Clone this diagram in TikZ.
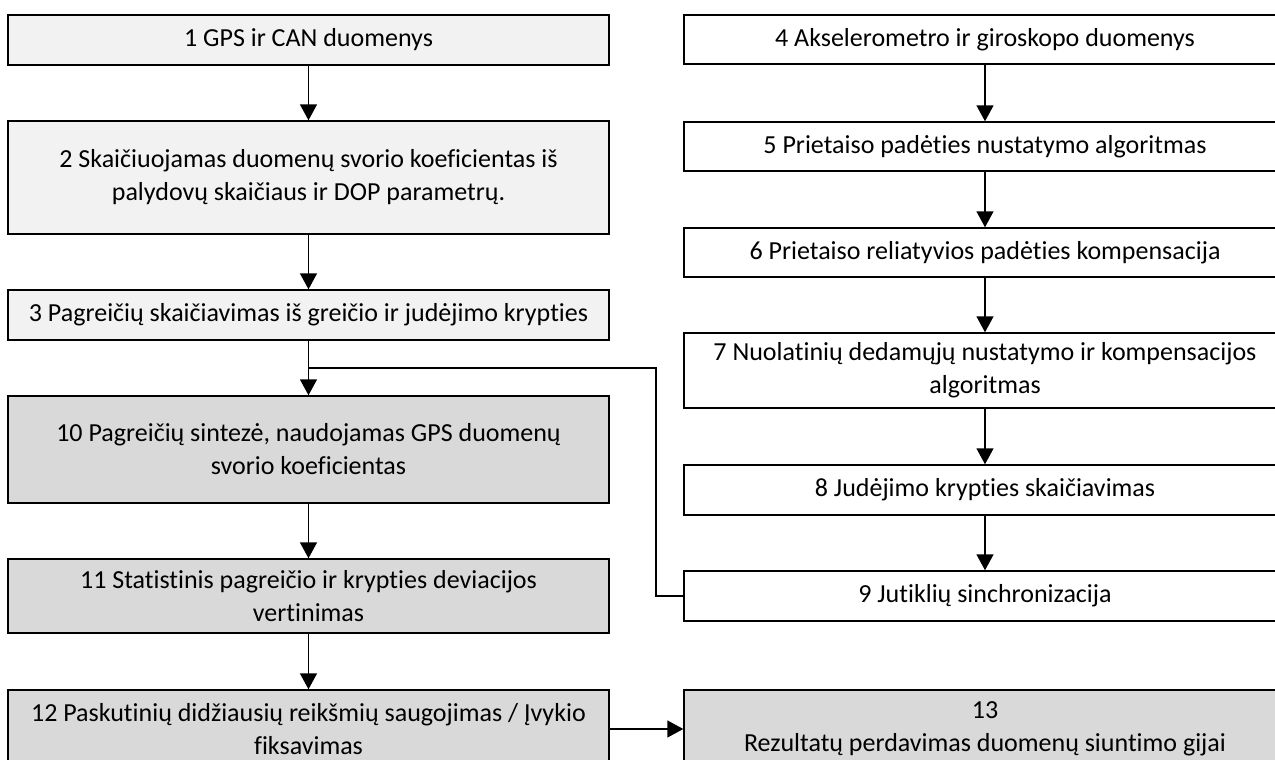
\documentclass[tikz,border=0pt]{standalone}
\usepackage{fontspec}
\setmainfont{Carlito}[Ligatures={NoCommon}]
\usetikzlibrary{arrows.meta}
\definecolor{lightbox}{HTML}{F2F2F2}
\definecolor{darkbox}{HTML}{D9D9D9}
\begin{document}
\begin{tikzpicture}[x=1pt,y=-1pt,
  box/.style={draw=black, line width=1.4pt, align=center, inner sep=0pt, font=\fontsize{26}{33}\selectfont},
  lbox/.style={box, minimum width=601pt},
  rbox/.style={box, minimum width=602pt},
  arr/.style={line width=1.4pt, -{Triangle[length=16pt,width=17pt]}},
  ln/.style={line width=1.4pt}]
\useasboundingbox (0,0) rectangle (1275,760);
\clip (0,0) rectangle (1275,760);
% left column
\node[lbox, fill=lightbox, minimum height=50pt] (n1) at (308.5,40) {1 GPS ir CAN duomenys};
\node[lbox, fill=lightbox, minimum height=113pt] (n2) at (308.5,177.5) {2 Skaičiuojamas duomenų svorio koeficientas iš\\palydovų skaičiaus ir DOP parametrų.};
\node[lbox, fill=lightbox, minimum height=50pt] (n3) at (308.5,315) {3 Pagreičių skaičiavimas iš greičio ir judėjimo krypties};
\node[lbox, fill=darkbox, minimum height=107pt] (n10) at (308.5,449.5) {10 Pagreičių sintezė, naudojamas GPS duomenų\\svorio koeficientas};
\node[lbox, fill=darkbox, minimum height=74pt] (n11) at (308.5,596) {11 Statistinis pagreičio ir krypties deviacijos\\vertinimas};
\node[lbox, fill=darkbox, minimum height=78pt] (n12) at (308.5,729) {12 Paskutinių didžiausių reikšmių saugojimas / Įvykio\\fiksavimas};
% right column
\node[rbox, minimum height=49pt] (n4) at (985,39.5) {4 Akselerometro ir giroskopo duomenys};
\node[rbox, minimum height=49pt] (n5) at (985,146.5) {5 Prietaiso padėties nustatymo algoritmas};
\node[rbox, minimum height=49pt] (n6) at (985,252.5) {6 Prietaiso reliatyvios padėties kompensacija};
\node[rbox, minimum height=75pt] (n7) at (985,370.5) {7 Nuolatinių dedamųjų nustatymo ir kompensacijos\\algoritmas};
\node[rbox, minimum height=50pt] (n8) at (985,490) {8 Judėjimo krypties skaičiavimas};
\node[rbox, minimum height=50pt] (n9) at (985,596) {9 Jutiklių sinchronizacija};
\node[rbox, fill=darkbox, minimum height=78pt] (n13) at (985,729) {13\\Rezultatų perdavimas duomenų siuntimo gijai};
% connectors
\draw[arr] (n1) -- (n2);
\draw[arr] (n2) -- (n3);
\draw[arr] (n3) -- (n10);
\draw[arr] (n10) -- (n11);
\draw[arr] (n11) -- (n12);
\draw[arr] (n4) -- (n5);
\draw[arr] (n5) -- (n6);
\draw[arr] (n6) -- (n7);
\draw[arr] (n7) -- (n8);
\draw[arr] (n8) -- (n9);
\draw[arr] (n12) -- (n13);
\coordinate (k) at (656,368);
\coordinate (j) at (308.5,368);
\draw[ln] (n9.west) -| (k) -- (j);
\end{tikzpicture}
\end{document}
